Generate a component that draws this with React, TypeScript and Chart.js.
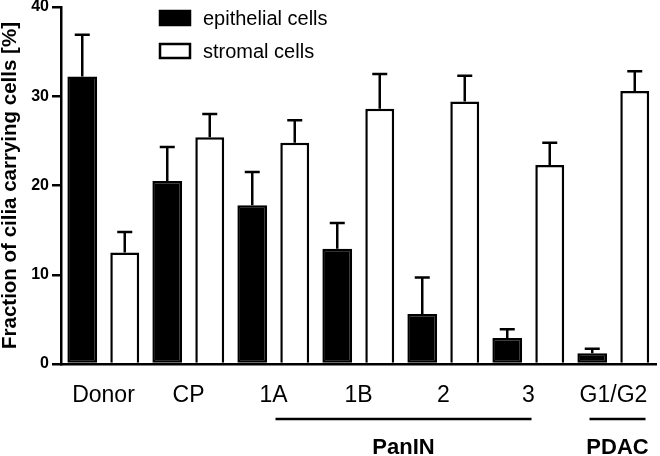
import React, { useEffect, useRef } from 'react';
import { Chart, registerables } from 'chart.js';

Chart.register(...registerables);

const categories = ['Donor', 'CP', '1A', '1B', '2', '3', 'G1/G2'];
const epithelial = [32.2, 20.5, 17.8, 12.9, 5.6, 2.9, 1.2];
const epithelialErr = [4.7, 3.8, 3.7, 2.9, 4.1, 1.0, 0.5];
const stromal = [12.5, 25.4, 24.8, 28.6, 29.4, 22.3, 30.6];
const stromalErr = [2.3, 2.6, 2.5, 3.9, 2.9, 2.5, 2.2];
const seriesLabels = ['epithelial cells', 'stromal cells'];
const yTickValues = [0, 10, 20, 30, 40];
const groupLabels = ['PanIN', 'PDAC'];
const groupFrom = ['1A', 'G1/G2'];
const groupTo = ['3', 'G1/G2'];

const FONT = "'Liberation Sans', Arial, Helvetica, sans-serif";

const errorBarPlugin = {
  id: 'errorBars',
  afterDatasetsDraw(chart: any) {
    const ctx = chart.ctx;
    const yScale = chart.scales.y;
    chart.data.datasets.forEach((ds: any, di: number) => {
      const meta = chart.getDatasetMeta(di);
      const errs = ds.errors as number[];
      meta.data.forEach((bar: any, i: number) => {
        const v = ds.data[i];
        const yTop = yScale.getPixelForValue(v);
        const yErr = yScale.getPixelForValue(v + errs[i]);
        ctx.save();
        ctx.strokeStyle = '#000';
        ctx.lineWidth = 2.5;
        ctx.beginPath();
        ctx.moveTo(bar.x, yTop);
        ctx.lineTo(bar.x, yErr);
        ctx.moveTo(bar.x - 7.5, yErr);
        ctx.lineTo(bar.x + 7.5, yErr);
        ctx.stroke();
        ctx.restore();
      });
    });
  },
};

const legendPlugin = {
  id: 'customLegend',
  afterDraw(chart: any) {
    const ctx = chart.ctx;
    const area = chart.chartArea;
    ctx.save();
    chart.data.datasets.forEach((ds: any, i: number) => {
      const bx = area.left + 99;
      const by = area.top + 4 + i * 33;
      ctx.fillStyle = ds.backgroundColor;
      ctx.strokeStyle = '#000';
      ctx.lineWidth = 2.5;
      ctx.fillRect(bx, by, 30, 14);
      ctx.strokeRect(bx, by, 30, 14);
      ctx.fillStyle = '#000';
      ctx.font = `20px ${FONT}`;
      ctx.textAlign = 'left';
      ctx.textBaseline = 'middle';
      ctx.fillText(ds.label, bx + 43, by + 8);
    });
    ctx.restore();
  },
};

const groupPlugin = {
  id: 'groupLabels',
  afterDraw(chart: any) {
    const ctx = chart.ctx;
    const x = chart.scales.x;
    ctx.save();
    groupLabels.forEach((g, i) => {
      const a = x.getPixelForValue(categories.indexOf(groupFrom[i]));
      const b = x.getPixelForValue(categories.indexOf(groupTo[i]));
      let x1 = a + 2;
      let x2 = b + 3;
      if (a === b) {
        x1 = a - 24;
        x2 = a + 32;
      }
      const ly = chart.chartArea.bottom + 55;
      ctx.strokeStyle = '#000';
      ctx.lineWidth = 2.5;
      ctx.beginPath();
      ctx.moveTo(x1, ly);
      ctx.lineTo(x2, ly);
      ctx.stroke();
      ctx.fillStyle = '#000';
      ctx.font = `bold 22px ${FONT}`;
      ctx.textAlign = 'center';
      ctx.textBaseline = 'middle';
      ctx.fillText(g, (x1 + x2) / 2, ly + 29);
    });
    ctx.restore();
  },
};

export default function App() {
  const ref = useRef<HTMLCanvasElement | null>(null);

  useEffect(() => {
    if (!ref.current) return;
    const chart = new Chart(ref.current, {
      type: 'bar',
      data: {
        labels: categories,
        datasets: [
          {
            label: seriesLabels[0],
            data: epithelial,
            errors: epithelialErr,
            backgroundColor: '#000000',
            borderColor: '#000000',
            borderWidth: 2.5,
            borderSkipped: false,
            categoryPercentage: 1.0,
            barPercentage: 0.7,
          } as any,
          {
            label: seriesLabels[1],
            data: stromal,
            errors: stromalErr,
            backgroundColor: '#ffffff',
            borderColor: '#000000',
            borderWidth: 2.5,
            borderSkipped: 'bottom',
            categoryPercentage: 1.0,
            barPercentage: 0.68,
          } as any,
        ],
      },
      options: {
        responsive: false,
        animation: false,
        layout: { padding: { top: 7, right: 4, left: 0, bottom: 0 } },
        plugins: {
          legend: { display: false },
          tooltip: { enabled: false },
        },
        scales: {
          x: {
            grid: { display: false, drawTicks: false },
            border: { display: true, color: '#000', width: 2.5 },
            ticks: {
              color: '#000',
              font: { family: FONT, size: 23 },
              padding: 18,
              maxRotation: 0,
              autoSkip: false,
            },
            afterFit(scale: any) {
              scale.height = 92;
              scale.paddingLeft = 0;
              scale.paddingRight = 0;
            },
          },
          y: {
            min: 0,
            max: 40,
            afterBuildTicks(scale: any) {
              scale.ticks = yTickValues.map((v) => ({ value: v }));
            },
            grid: {
              display: true,
              drawOnChartArea: false,
              drawTicks: true,
              tickLength: 9,
              color: '#000',
              lineWidth: 2.5,
            },
            border: { display: true, color: '#000', width: 2.5 },
            ticks: {
              color: '#000',
              font: { family: FONT, size: 16, weight: 'bold' },
              padding: 3,
            },
            title: {
              display: true,
              text: 'Fraction of cilia carrying cells [%]',
              color: '#000',
              font: { family: FONT, size: 20.5, weight: 'bold', lineHeight: 1 },
              padding: { top: 0, bottom: 0 },
            },
            afterFit(scale: any) {
              scale.width = 61;
              scale.paddingTop = 0;
              scale.paddingBottom = 0;
            },
          },
        },
      } as any,
      plugins: [errorBarPlugin, legendPlugin, groupPlugin],
    });
    return () => chart.destroy();
  }, []);

  return (
    <div style={{ position: 'fixed', left: 0, top: 0, width: 660, height: 456, background: '#fff' }}>
      <canvas ref={ref} width={660} height={456} />
    </div>
  );
}
